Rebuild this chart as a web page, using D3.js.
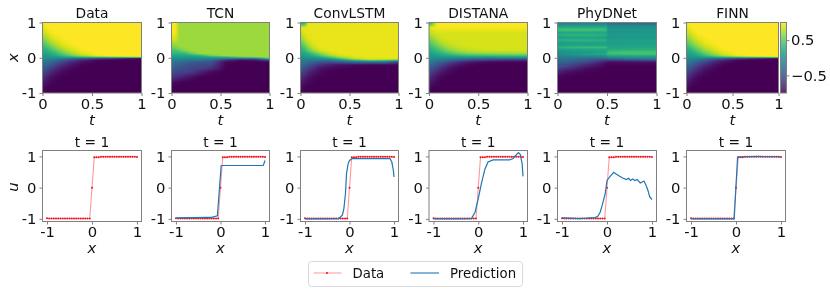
<!DOCTYPE html>
<html>
<head>
<meta charset="utf-8">
<script src="https://cdn.jsdelivr.net/npm/d3@7"></script>
<style>
  html, body { margin: 0; padding: 0; background: #fff; }
  #chart { position: relative; width: 830px; height: 293px; overflow: hidden; }
  #chart canvas { position: absolute; }
  #chart svg { position: absolute; left: 0; top: 0; }
  text { font-family: "DejaVu Sans", sans-serif; fill: #111; }
</style>
</head>
<body>
<div id="chart"></div>
<script>
const panelNames = ["Data", "TCN", "ConvLSTM", "DISTANA", "PhyDNet", "FINN"];
const heatTicksT = [0, 0.5, 1];
const heatTicksX = [-1, 0, 1];
const lineTicks = [-1, 0, 1];
const colorbarTicks = [0.5, -0.5];

// grid positions of the heatmaps, rows run from x = 1 down to x = -1
const gridT = [0, 0.04, 0.08, 0.13, 0.2, 0.3, 0.4, 0.55, 0.7, 0.85, 1];
const gridX = [1, 0.85, 0.7, 0.55, 0.4, 0.3, 0.2, 0.12, 0.06, 0.02, -0.02, -0.06, -0.12, -0.2, -0.3, -0.4, -0.55, -0.7, -0.85, -1];
const phyT = [0, 0.1, 0.3, 0.49, 0.51, 0.75, 1];
const phyX = [1, 0.95, 0.9, 0.85, 0.8, 0.75, 0.7, 0.65, 0.6, 0.55, 0.5, 0.45, 0.4, 0.35, 0.3, 0.25, 0.2, 0.15, 0.1, 0.05, 0, -0.05, -0.1, -0.15, -0.2, -0.25, -0.3, -0.4, -0.5, -0.6, -0.8, -1];

const heatData = [
  [.96, 1, 1, 1, 1, 1, 1, 1, 1, 1, 1],
  [.9, .97, 1, 1, 1, 1, 1, 1, 1, 1, 1],
  [.78, .87, .95, .99, 1, 1, 1, 1, 1, 1, 1],
  [.62, .73, .84, .93, .98, 1, 1, 1, 1, 1, 1],
  [.44, .55, .67, .8, .92, .98, 1, 1, 1, 1, 1],
  [.32, .4, .52, .65, .82, .95, 1, 1, 1, 1, 1],
  [.2, .26, .36, .48, .66, .86, .97, 1, 1, 1, 1],
  [.12, .16, .22, .32, .5, .72, .89, .99, 1, 1, 1],
  [.06, .08, .14, .2, .34, .54, .74, .94, .99, 1, 1],
  [.02, .03, .05, .08, .16, .26, .36, .52, .68, .8, .9],
  [-.03, -.05, -.07, -.1, -.16, -.25, -.35, -.5, -.65, -.8, -.9],
  [-.1, -.14, -.18, -.26, -.38, -.58, -.76, -.94, -.99, -1, -1],
  [-.2, -.24, -.31, -.41, -.58, -.79, -.92, -.99, -1, -1, -1],
  [-.3, -.36, -.46, -.58, -.74, -.9, -.98, -1, -1, -1, -1],
  [-.43, -.5, -.62, -.74, -.88, -.97, -1, -1, -1, -1, -1],
  [-.55, -.64, -.76, -.86, -.95, -.99, -1, -1, -1, -1, -1],
  [-.72, -.81, -.9, -.96, -.99, -1, -1, -1, -1, -1, -1],
  [-.85, -.92, -.97, -.99, -1, -1, -1, -1, -1, -1, -1],
  [-.93, -.98, -1, -1, -1, -1, -1, -1, -1, -1, -1],
  [-.98, -1, -1, -1, -1, -1, -1, -1, -1, -1, -1]
];
const heatTCN = [
  [.98, .98, .7, .7, .7, .7, .7, .7, .7, .7, .7],
  [1, .98, .7, .7, .7, .7, .7, .7, .7, .7, .7],
  [.98, .96, .7, .7, .7, .7, .7, .7, .7, .7, .7],
  [.88, .88, .7, .7, .7, .7, .7, .7, .7, .7, .7],
  [.7, .72, .7, .7, .7, .7, .7, .7, .7, .7, .7],
  [.55, .6, .68, .7, .7, .7, .7, .7, .7, .7, .7],
  [.42, .42, .48, .62, .7, .7, .7, .7, .7, .7, .7],
  [.3, .28, .3, .32, .5, .7, .7, .7, .7, .7, .7],
  [.2, .18, .18, .18, .2, .3, .55, .7, .7, .7, .7],
  [.1, .08, .08, .07, .08, .12, .2, .3, .55, .7, .7],
  [-.03, -.04, -.05, -.05, -.06, -.06, -.07, -.1, -.2, -.2, .5],
  [-.1, -.12, -.14, -.16, -.18, -.2, -.24, -.7, -.9, -.85, -.5],
  [-.2, -.24, -.28, -.33, -.4, -.46, -.5, -.95, -1, -1, -1],
  [-.3, -.34, -.38, -.45, -.52, -.56, -.58, -.98, -1, -1, -1],
  [-.4, -.46, -.5, -.54, -.58, -.62, -.72, -1, -1, -1, -1],
  [-.52, -.55, -.58, -.6, -.65, -.82, -.95, -1, -1, -1, -1],
  [-.7, -.72, -.78, -.85, -.92, -1, -1, -1, -1, -1, -1],
  [-.92, -.96, -.98, -1, -1, -1, -1, -1, -1, -1, -1],
  [-1, -1, -1, -1, -1, -1, -1, -1, -1, -1, -1],
  [-1, -1, -1, -1, -1, -1, -1, -1, -1, -1, -1]
];
const heatConvLSTM = [
  [.1, .2, .93, .93, .93, .93, .93, .93, .93, .93, .93],
  [.88, .93, .93, .93, .93, .93, .93, .93, .93, .93, .93],
  [.8, .9, .93, .93, .93, .93, .93, .93, .93, .93, .93],
  [.66, .8, .91, .93, .93, .93, .93, .93, .93, .93, .93],
  [.46, .62, .8, .9, .93, .93, .93, .93, .93, .93, .93],
  [.32, .46, .66, .83, .93, .93, .93, .93, .93, .93, .93],
  [.22, .32, .5, .68, .86, .93, .93, .93, .93, .93, .93],
  [.14, .18, .28, .42, .62, .85, .93, .93, .93, .93, .93],
  [.07, .1, .16, .26, .42, .68, .86, .93, .93, .93, .93],
  [.02, .03, .07, .12, .23, .46, .72, .9, .93, .93, .93],
  [-.03, -.04, -.05, -.04, 0, .18, .46, .8, .9, .9, .92],
  [-.1, -.13, -.16, -.17, -.2, -.16, .06, .46, .72, .68, .6],
  [-.2, -.24, -.3, -.37, -.47, -.52, -.47, -.32, -.27, -.27, -.6],
  [-.3, -.36, -.46, -.57, -.72, -.84, -.9, -.95, -.97, -.97, -.98],
  [-.43, -.5, -.62, -.75, -.89, -.96, -.98, -1, -1, -1, -1],
  [-.55, -.64, -.76, -.87, -.95, -.99, -1, -1, -1, -1, -1],
  [-.72, -.81, -.9, -.96, -.99, -1, -1, -1, -1, -1, -1],
  [-.85, -.92, -.97, -.99, -1, -1, -1, -1, -1, -1, -1],
  [-.93, -.98, -1, -1, -1, -1, -1, -1, -1, -1, -1],
  [-.98, -1, -1, -1, -1, -1, -1, -1, -1, -1, -1]
];
const heatDISTANA = [
  [.2, .5, .98, 1, 1, 1, 1, 1, 1, 1, 1],
  [.9, .95, .97, .97, .97, .97, .97, .97, .97, .97, .97],
  [.75, .84, .88, .88, .88, .88, .88, .88, .88, .88, .88],
  [.6, .7, .79, .86, .88, .88, .88, .88, .88, .88, .88],
  [.44, .52, .63, .74, .83, .87, .88, .88, .88, .88, .88],
  [.32, .4, .5, .61, .74, .83, .86, .88, .88, .88, .88],
  [.22, .27, .35, .45, .6, .73, .8, .84, .85, .85, .85],
  [.13, .17, .23, .3, .4, .53, .62, .66, .68, .7, .7],
  [.07, .09, .12, .16, .22, .3, .34, .38, .4, .42, .42],
  [.02, .03, .04, .05, .07, .08, .1, .1, .12, .14, .16],
  [-.04, -.05, -.06, -.08, -.1, -.16, -.2, -.24, -.26, -.26, -.26],
  [-.11, -.13, -.17, -.21, -.28, -.4, -.5, -.6, -.66, -.68, -.68],
  [-.2, -.24, -.32, -.4, -.54, -.73, -.86, -.94, -.97, -.97, -.97],
  [-.31, -.37, -.47, -.59, -.76, -.9, -.97, -1, -1, -1, -1],
  [-.44, -.52, -.63, -.76, -.9, -.98, -1, -1, -1, -1, -1],
  [-.56, -.66, -.77, -.88, -.96, -1, -1, -1, -1, -1, -1],
  [-.73, -.82, -.91, -.97, -1, -1, -1, -1, -1, -1, -1],
  [-.86, -.93, -.97, -1, -1, -1, -1, -1, -1, -1, -1],
  [-.95, -.99, -1, -1, -1, -1, -1, -1, -1, -1, -1],
  [-1, -1, -1, -1, -1, -1, -1, -1, -1, -1, -1]
];
const heatPhyDNet = [
  [-.15, -.15, -.15, -.15, -.35, -.35, -.35],
  [-.05, -.05, -.05, -.05, -.2, -.2, -.22],
  [.12, .12, .12, .12, -.05, -.05, -.05],
  [.24, .26, .26, .26, 0, 0, 0],
  [.4, .42, .42, .38, .06, .06, .06],
  [.28, .3, .3, .28, .02, .04, .04],
  [.14, .16, .16, .16, .05, .07, .07],
  [.28, .32, .32, .28, .08, .08, .08],
  [.16, .18, .2, .18, .06, .08, .08],
  [.13, .14, .18, .14, .05, .07, .07],
  [.28, .32, .32, .28, .12, .14, .14],
  [.14, .16, .18, .18, .12, .12, .12],
  [.08, .1, .12, .12, .1, .12, .12],
  [.12, .14, .16, .16, .13, .15, .15],
  [.28, .34, .38, .38, .18, .2, .2],
  [.14, .18, .22, .24, .2, .24, .24],
  [.04, .08, .14, .16, .28, .34, .34],
  [-.02, .02, .08, .16, .4, .42, .42],
  [-.03, .02, .16, .24, .36, .4, .4],
  [-.12, -.08, -.04, -.02, .14, .16, .18],
  [-.2, -.2, -.22, -.2, -.12, -.02, -.02],
  [-.28, -.28, -.4, -.55, -.5, -.4, -.3],
  [-.34, -.34, -.5, -.8, -.85, -.82, -.78],
  [-.4, -.42, -.65, -.92, -.95, -.95, -.95],
  [-.5, -.55, -.78, -.96, -.98, -.98, -.98],
  [-.42, -.62, -.85, -.98, -1, -1, -1],
  [-.62, -.74, -.93, -1, -1, -1, -1],
  [-.8, -.92, -.98, -1, -1, -1, -1],
  [-.95, -.98, -1, -1, -1, -1, -1],
  [-.98, -1, -1, -1, -1, -1, -1],
  [-.99, -1, -1, -1, -1, -1, -1],
  [-1, -1, -1, -1, -1, -1, -1]
];
const heatFINN = [
  [.95, 1, 1, 1, 1, 1, 1, 1, 1, 1, 1],
  [.9, .96, 1, 1, 1, 1, 1, 1, 1, 1, 1],
  [.78, .86, .94, .99, 1, 1, 1, 1, 1, 1, 1],
  [.62, .72, .83, .92, .98, 1, 1, 1, 1, 1, 1],
  [.44, .55, .66, .79, .91, .98, 1, 1, 1, 1, 1],
  [.32, .4, .52, .65, .81, .94, 1, 1, 1, 1, 1],
  [.2, .26, .36, .48, .66, .85, .96, 1, 1, 1, 1],
  [.12, .16, .22, .32, .5, .71, .88, .99, 1, 1, 1],
  [.06, .08, .14, .2, .34, .54, .74, .94, .99, 1, 1],
  [.02, .03, .05, .08, .16, .26, .36, .52, .68, .8, .9],
  [-.03, -.05, -.07, -.1, -.16, -.25, -.35, -.5, -.65, -.8, -.9],
  [-.1, -.14, -.18, -.26, -.38, -.58, -.76, -.94, -.99, -1, -1],
  [-.2, -.24, -.31, -.41, -.58, -.79, -.92, -.99, -1, -1, -1],
  [-.3, -.36, -.46, -.58, -.74, -.9, -.98, -1, -1, -1, -1],
  [-.43, -.5, -.62, -.74, -.88, -.97, -1, -1, -1, -1, -1],
  [-.55, -.64, -.76, -.86, -.95, -.99, -1, -1, -1, -1, -1],
  [-.72, -.81, -.9, -.96, -.99, -1, -1, -1, -1, -1, -1],
  [-.85, -.92, -.97, -.99, -1, -1, -1, -1, -1, -1, -1],
  [-.93, -.98, -1, -1, -1, -1, -1, -1, -1, -1, -1],
  [-.98, -1, -1, -1, -1, -1, -1, -1, -1, -1, -1]
];

// red markers at t = 1
const dataX = [-1, -.95, -.9, -.85, -.8, -.75, -.7, -.65, -.6, -.55, -.5, -.45, -.4, -.35, -.3, -.25, -.2, -.15, -.1, -.05, 0, .05, .1, .15, .2, .25, .3, .35, .4, .45, .5, .55, .6, .65, .7, .75, .8, .85, .9, .95, 1];
const dataU = [-.98, -.99, -.99, -.99, -.99, -.99, -.99, -.99, -.99, -.99, -.99, -.99, -.99, -.99, -.99, -.99, -.99, -.99, -.99, -.99, 0, .97, .97, .97, .99, .99, .99, .99, .99, .99, .99, .99, .99, .99, .99, .99, .99, .99, .99, .99, .98];

// predictions at t = 1
const tcnX = [-1, -.6, -.3, -.2, -.07, .015, .5, .96, 1];
const tcnU = [-.97, -.96, -.95, -.95, -.9, .71, .71, .71, .87];
const lstmX = [-1, -.5, -.24, -.16, -.126, -.09, -.067, -.03, 0, .06, .5, .91, .95, .985, 1];
const lstmU = [-1, -1, -.99, -.88, -.67, -.19, .45, .77, .87, .93, .93, .93, .82, .55, .34];
const distanaX = [-1, -.5, -.15, -.07, 0, .07, .15, .22, .33, .7, .78, .85, .9, .94, .98, 1];
const distanaU = [-1, -1, -.99, -.78, -.35, .13, .6, .82, .89, .89, .93, 1.06, 1.12, 1.06, .77, .36];
const phyLineX = [-1, -.82, -.63, -.45, -.26, -.2, -.15, -.1, -.04, 0, .07, .15, .21, .29, .36, .43, .48, .52, .57, .62, .67, .74, .82, .87, .91, .95, 1];
const phyLineU = [-.97, -.98, -.99, -.98, -.96, -.91, -.78, -.53, -.19, .23, .36, .49, .43, .36, .3, .26, .3, .23, .28, .23, .26, .15, .21, .07, -.09, -.3, -.38];
const finnX = [-1, -.5, -.04, .035, .1, .5, 1];
const finnU = [-1, -1, -1, .98, .99, 1, .99];

const heatGrids = [heatData, heatTCN, heatConvLSTM, heatDISTANA, heatPhyDNet, heatFINN];
const predictions = [null, [tcnX, tcnU], [lstmX, lstmU], [distanaX, distanaU], [phyLineX, phyLineU], [finnX, finnU]];

const width = 830, height = 293;
const topRow = {y0: 22.5, y1: 93};
const bottomRow = {y0: 150.5, y1: 221.5};
const heatLeft = [42.5, 171.5, 300.5, 429, 557.5, 686.5];
const heatRight = [141.5, 269.5, 398.5, 527.5, 656.5, 778.5];
const lineRight = [141.5, 269.5, 398.5, 527.5, 656.5, 785.5];

const spineColor = "#808080";
const labelSize = 14.8, titleSize = 13.8, legendSize = 13.3;

const chart = d3.select("#chart");
const colorScale = d3.scaleSequential(d3.interpolateViridis).domain([-1, 1]);

const svg = chart.append("svg")
    .attr("width", width)
    .attr("height", height);

// paints one heatmap, colour with bilinear lookup
const drawHeatmap = (grid, tValues, xValues, xScale, yScale) => {
    const x0 = Math.round(xScale.range()[0]), x1 = Math.round(xScale.range()[1]);
    const y0 = Math.round(yScale.range()[1]), y1 = Math.round(yScale.range()[0]);
    const canvas = chart.insert("canvas", "svg")
        .attr("width", x1 - x0)
        .attr("height", y1 - y0)
        .style("left", `${x0}px`)
        .style("top", `${y0}px`);
    const ctx = canvas.node().getContext("2d");
    const colIndex = d3.scaleLinear().domain(tValues).range(d3.range(tValues.length)).clamp(true);
    const rowIndex = d3.scaleLinear().domain(xValues).range(d3.range(xValues.length)).clamp(true);

    for (let py = y0; py < y1; py++) {
        const r = rowIndex(yScale.invert(py + 0.5));
        const r0 = Math.min(Math.floor(r), xValues.length - 2);
        for (let px = x0; px < x1; px++) {
            const c = colIndex(xScale.invert(px + 0.5));
            const c0 = Math.min(Math.floor(c), tValues.length - 2);
            const top = grid[r0][c0] + (grid[r0][c0 + 1] - grid[r0][c0]) * (c - c0);
            const bottom = grid[r0 + 1][c0] + (grid[r0 + 1][c0 + 1] - grid[r0 + 1][c0]) * (c - c0);
            ctx.fillStyle = colorScale(top + (bottom - top) * (r - r0));
            ctx.fillRect(px - x0, py - y0, 1, 1);
        }
    }
};

const styleAxis = (g) => {
    g.select(".domain").remove();
    g.selectAll("line").attr("stroke", spineColor);
    g.selectAll("text")
        .attr("font-size", labelSize)
        .style("font-family", '"DejaVu Sans", sans-serif')
        .style("fill", "#111");
};

const addSpines = (x0, x1, y0, y1) => {
    svg.append("rect")
        .attr("x", x0)
        .attr("y", y0)
        .attr("width", x1 - x0)
        .attr("height", y1 - y0)
        .attr("fill", "none")
        .attr("stroke", spineColor)
        .attr("stroke-width", 1);
};

panelNames.forEach((name, i) => {
    // top row, the heatmap
    const tScale = d3.scaleLinear().domain([0, 1]).range([heatLeft[i], heatRight[i]]);
    const xScale = d3.scaleLinear().domain([-1, 1]).range([topRow.y1, topRow.y0]);
    const isPhy = name === "PhyDNet";
    drawHeatmap(heatGrids[i], isPhy ? phyT : gridT, isPhy ? phyX : gridX, tScale, xScale);

    svg.append("g")
        .attr("transform", `translate(0, ${topRow.y1})`)
        .call(d3.axisBottom(tScale).tickValues(heatTicksT).tickSize(3).tickPadding(2).tickFormat(d3.format("")))
        .call(styleAxis);
    svg.append("g")
        .attr("transform", `translate(${heatLeft[i]}, 0)`)
        .call(d3.axisLeft(xScale).tickValues(heatTicksX).tickSize(3).tickPadding(3).tickFormat(d => `${d}`))
        .call(styleAxis);
    addSpines(heatLeft[i], heatRight[i], topRow.y0, topRow.y1);

    const cx = (heatLeft[i] + heatRight[i]) / 2;
    svg.append("text")
        .attr("x", cx)
        .attr("y", 17.5)
        .attr("text-anchor", "middle")
        .attr("font-size", titleSize)
        .text(name);
    svg.append("text")
        .attr("x", cx)
        .attr("y", 124.5)
        .attr("text-anchor", "middle")
        .attr("font-size", labelSize)
        .attr("font-style", "italic")
        .text("t");

    // bottom row, the profile at t = 1
    const xLine = d3.scaleLinear().domain([-1.1, 1.1]).range([heatLeft[i], lineRight[i]]);
    const yLine = d3.scaleLinear().domain([-1.085, 1.19]).range([bottomRow.y1, bottomRow.y0]);
    const line = d3.line().x(d => xLine(d[0])).y(d => yLine(d[1]));

    svg.append("g")
        .attr("transform", `translate(0, ${bottomRow.y1})`)
        .call(d3.axisBottom(xLine).tickValues(lineTicks).tickSize(3).tickPadding(2).tickFormat(d => `${d}`))
        .call(styleAxis);
    svg.append("g")
        .attr("transform", `translate(${heatLeft[i]}, 0)`)
        .call(d3.axisLeft(yLine).tickValues(lineTicks).tickSize(3).tickPadding(3).tickFormat(d => `${d}`))
        .call(styleAxis);

    svg.append("path")
        .attr("d", line(d3.zip(dataX, dataU)))
        .attr("fill", "none")
        .attr("stroke", "#ff0000")
        .attr("stroke-opacity", 0.4)
        .attr("stroke-width", 1.1);
    svg.append("g")
        .selectAll("circle")
        .data(d3.zip(dataX, dataU))
        .join("circle")
        .attr("cx", d => xLine(d[0]))
        .attr("cy", d => yLine(d[1]))
        .attr("r", 1)
        .attr("fill", "#f01020");

    if (predictions[i]) {
        svg.append("path")
            .attr("d", line(d3.zip(predictions[i][0], predictions[i][1])))
            .attr("fill", "none")
            .attr("stroke", "#1f77b4")
            .attr("stroke-width", 1.2);
    }
    addSpines(heatLeft[i], lineRight[i], bottomRow.y0, bottomRow.y1);

    const cxLine = (heatLeft[i] + lineRight[i]) / 2;
    svg.append("text")
        .attr("x", cxLine)
        .attr("y", 146.5)
        .attr("text-anchor", "middle")
        .attr("font-size", titleSize)
        .text("t = 1");
    svg.append("text")
        .attr("x", cxLine)
        .attr("y", 253)
        .attr("text-anchor", "middle")
        .attr("font-size", labelSize)
        .attr("font-style", "italic")
        .text("x");
});

// y labels only on the first column
const addRotated = (label, y) => {
    svg.append("text")
        .attr("transform", `translate(18, ${y}) rotate(-90)`)
        .attr("text-anchor", "middle")
        .attr("font-size", labelSize)
        .attr("font-style", "italic")
        .text(label);
};
addRotated("x", 57.5);
addRotated("u", 187);

// colour bar
const barScale = d3.scaleLinear().domain([-1, 1]).range([topRow.y1, topRow.y0]);
const barLeft = 780.5, barRight = 786.5;
svg.append("g")
    .selectAll("rect")
    .data(d3.range(0, 71))
    .join("rect")
    .attr("x", barLeft)
    .attr("y", d => topRow.y0 + d)
    .attr("width", barRight - barLeft)
    .attr("height", d => Math.min(1.2, topRow.y1 - topRow.y0 - d))
    .attr("fill", d => colorScale(barScale.invert(topRow.y0 + d + 0.5)));
svg.append("g")
    .attr("transform", `translate(${barRight}, 0)`)
    .call(d3.axisRight(barScale).tickValues(colorbarTicks).tickSize(3).tickPadding(1.5).tickFormat(d => d3.format(".1f")(d).replace("-", "\u2212")))
    .call(styleAxis);
addSpines(barLeft, barRight, topRow.y0, topRow.y1);

// legend
const legend = svg.append("g");
legend.append("rect")
    .attr("x", 308.5)
    .attr("y", 261.5)
    .attr("width", 214)
    .attr("height", 25)
    .attr("rx", 3)
    .attr("fill", "#fff")
    .attr("stroke", "#d9d9d9");
legend.append("line")
    .attr("x1", 313.5).attr("x2", 341.5)
    .attr("y1", 273).attr("y2", 273)
    .attr("stroke", "#ff0000")
    .attr("stroke-opacity", 0.4);
legend.append("circle")
    .attr("cx", 327)
    .attr("cy", 273)
    .attr("r", 1)
    .attr("fill", "#f01020");
legend.append("text")
    .attr("x", 352.5)
    .attr("y", 277.7)
    .attr("font-size", legendSize)
    .text("Data");
legend.append("line")
    .attr("x1", 410.5).attr("x2", 439)
    .attr("y1", 273).attr("y2", 273)
    .attr("stroke", "#1f77b4")
    .attr("stroke-opacity", 0.55)
    .attr("stroke-width", 2);
legend.append("text")
    .attr("x", 450)
    .attr("y", 277.7)
    .attr("font-size", legendSize)
    .text("Prediction");
</script>
</body>
</html>
